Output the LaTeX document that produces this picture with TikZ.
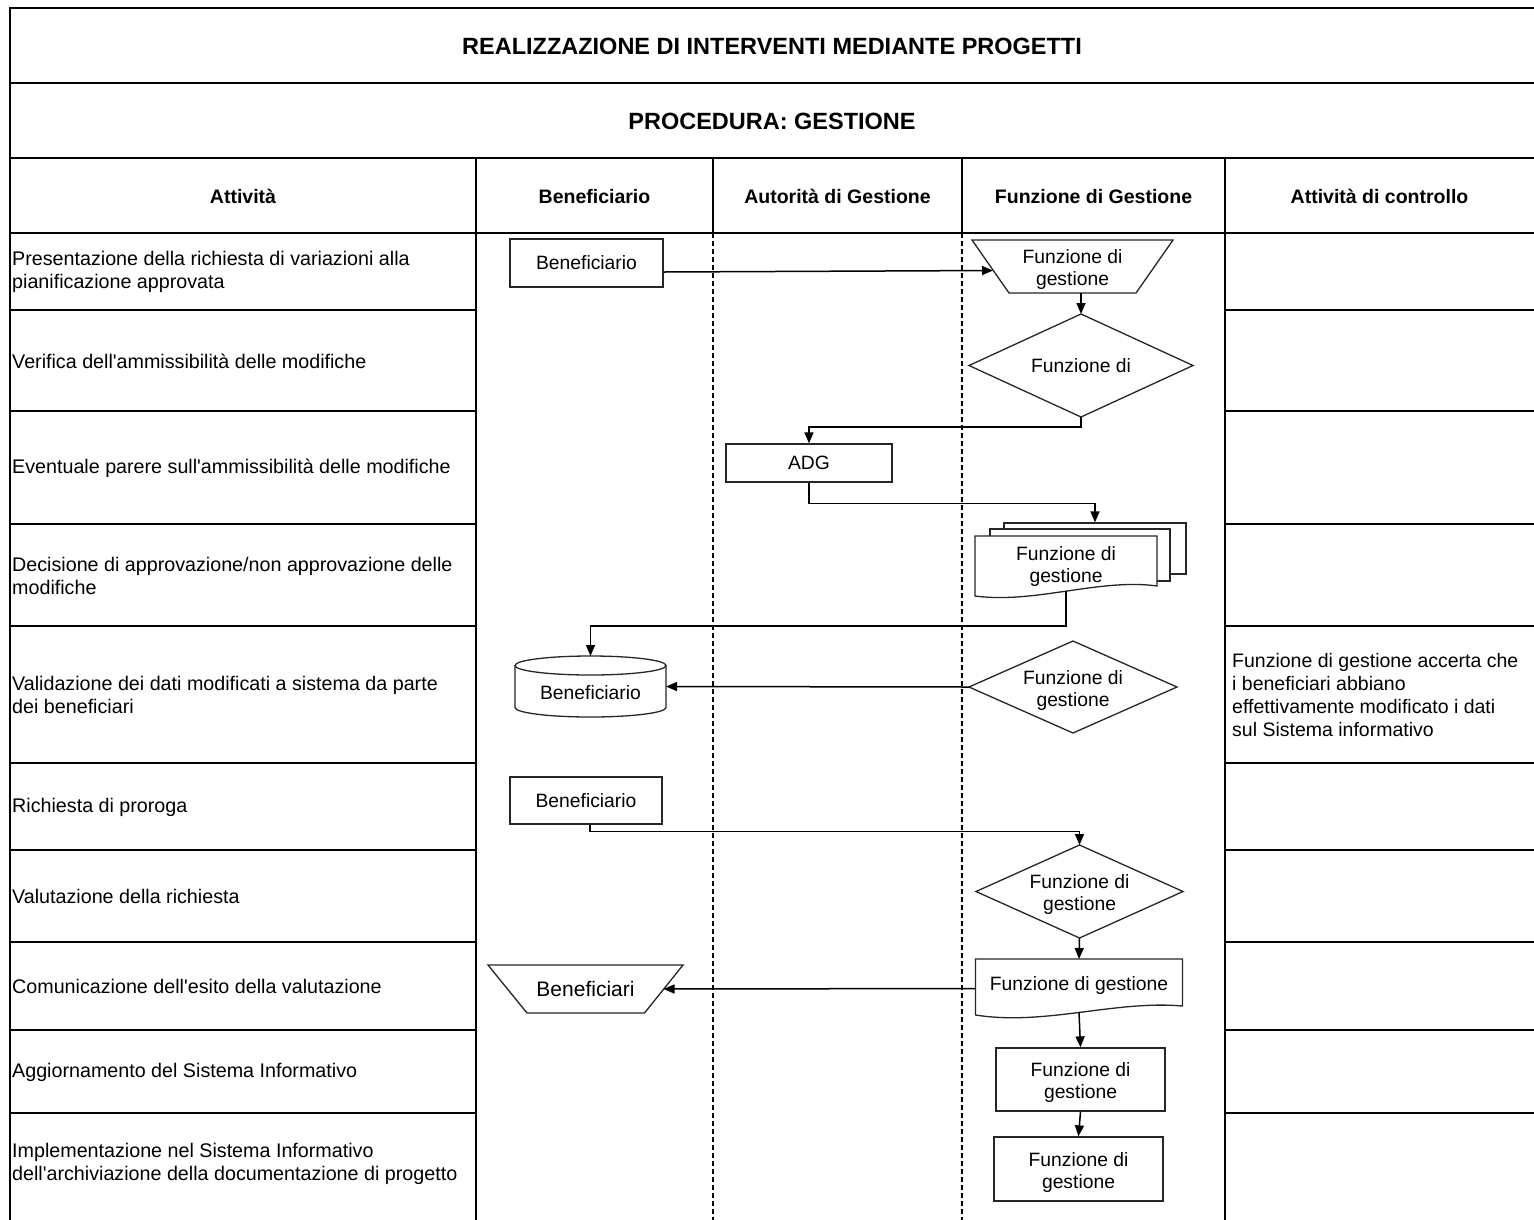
\documentclass[tikz,border=0pt]{standalone}
\usepackage{fontspec}
\setmainfont{Liberation Sans}
\usetikzlibrary{arrows.meta,calc}
\begin{document}
\begin{tikzpicture}[x=1pt,y=-1pt,
  tbl/.style={line width=2.4pt,line cap=rect},
  lane/.style={line width=2pt,dash pattern=on 5pt off 3pt},
  ttl/.style={font=\bfseries\fontsize{23.5}{28}\selectfont,inner sep=0,anchor=base},
  hdr/.style={font=\bfseries\fontsize{19.5}{23}\selectfont,inner sep=0,anchor=base},
  lbl/.style={anchor=west,align=left,font=\fontsize{19.7}{23}\selectfont,inner sep=0},
  ctl/.style={anchor=west,align=left,font=\fontsize{19.5}{23}\selectfont,inner sep=0},
  outl/.style={draw=black!85,line width=1.3pt,fill=white},
  box/.style={outl,align=center,font=\fontsize{19.3}{22}\selectfont,inner sep=0},
  shp/.style={align=center,font=\fontsize{19.3}{22}\selectfont,inner sep=0,outer sep=0},
  twoline/.style={text height=42pt,text depth=4pt},
  arr/.style={line width=1.5pt,-{Triangle[length=11pt,width=9pt]}}
]
\useasboundingbox (0,0) rectangle (1534,1219);
\fill[white] (0,0) rectangle (1534,1219);

% ---- table frame
\draw[tbl] (10,1230) -- (10,8) -- (1540,8);
\foreach \y in {83,158,233} \draw[tbl] (10,\y) -- (1540,\y);
\foreach \x in {476,1225} \draw[tbl] (\x,158) -- (\x,1230);
\foreach \x in {713,962} {
  \draw[tbl] (\x,158) -- (\x,233);
  \draw[lane] (\x,233) -- (\x,1230);
}
\foreach \y in {310,411,524,626,763,850,942,1030,1113} {
  \draw[tbl] (10,\y) -- (476,\y);
  \draw[tbl] (1225,\y) -- (1540,\y);
}

% ---- titles and headers
\node[ttl] (title) at (772,54.5) {REALIZZAZIONE DI INTERVENTI MEDIANTE PROGETTI};
\node[ttl] (proc) at (772,129) {PROCEDURA: GESTIONE};
\node[hdr] (h1) at (243,203) {Attività};
\node[hdr] (h2) at (594.5,203) {Beneficiario};
\node[hdr] (h3) at (837.5,203) {Autorità di Gestione};
\node[hdr] (h4) at (1093.5,203) {Funzione di Gestione};
\node[hdr] (h5) at (1379.5,203) {Attività di controllo};

% ---- activities
\node[lbl] (a1) at (12,272) {Presentazione della richiesta di variazioni alla\\pianificazione approvata};
\node[lbl] (a2) at (12,361) {Verifica dell\textquotesingle ammissibilità delle modifiche};
\node[lbl] (a3) at (12,468) {Eventuale parere sull\textquotesingle ammissibilità delle modifiche};
\node[lbl] (a4) at (12,575.5) {Decisione di approvazione/non approvazione delle\\modifiche};
\node[lbl] (a5) at (12,695) {Validazione dei dati modificati a sistema da parte\\dei beneficiari};
\node[lbl] (a6) at (12,807.5) {Richiesta di proroga};
\node[lbl] (a7) at (12,896.5) {Valutazione della richiesta};
\node[lbl] (a8) at (12,986.5) {Comunicazione dell\textquotesingle esito della valutazione};
\node[lbl] (a9) at (12,1072.5) {Aggiornamento del Sistema Informativo};
\node[lbl] (a10) at (12,1164) {Implementazione nel Sistema Informativo\\dell\textquotesingle archiviazione della documentazione di progetto};

\node[ctl] (c5) at (1232,695) {Funzione di gestione accerta che\\i beneficiari abbiano\\effettivamente modificato i dati\\sul Sistema informativo};

% ---- flow shapes
\node[box,minimum width=153,minimum height=48] (ben1) at (586.5,263) {Beneficiario};

\draw[outl] (972,240) -- (1173,240) -- (1136,293) -- (1009,293) -- cycle;
\node[shp,twoline,minimum width=201,minimum height=53] (t1) at (1072.5,266.5) {Funzione di\\gestione};
\coordinate (t1in) at ($(t1.west)+(21,4)$);

\draw[outl] (969,365.5) -- (1081,314) -- (1193,365.5) -- (1081,417) -- cycle;
\node[shp,minimum width=224,minimum height=103] (d1) at (1081,365.5) {Funzione di};

\node[box,minimum width=166,minimum height=38] (adg) at (809,463) {ADG};

\node[outl,inner sep=0,minimum width=182,minimum height=51] (mdback) at (1095,548.5) {};
\node[outl,inner sep=0,minimum width=180,minimum height=52] (mdmid) at (1080,555) {};
\draw[outl] (975,536) -- (1157,536) -- (1157,586) .. controls (1100,578) and (1035,604) .. (975,596) -- cycle;
\node[shp,twoline,minimum width=182,minimum height=55] (mdfront) at (1066,563.5) {Funzione di\\gestione};

\draw[outl] (515,665.5) -- (515,707.5) arc[start angle=180,end angle=360,x radius=75.5pt,y radius=9.5pt] -- (666,665.5);
\draw[outl] (590.5,665.5) ellipse [x radius=75.5pt,y radius=9.5pt];
\node[shp,minimum width=151,minimum height=61,text height=30pt,text depth=4pt] (cyl) at (590.5,686.5) {Beneficiario};

\draw[outl] (969,687) -- (1073,641) -- (1177,687) -- (1073,733) -- cycle;
\node[shp,twoline,minimum width=208,minimum height=92] (d2) at (1073,687) {Funzione di\\gestione};

\node[box,minimum width=152,minimum height=47] (ben2) at (586,800.5) {Beneficiario};

\draw[outl] (976,891.5) -- (1079.5,845) -- (1183,891.5) -- (1079.5,938) -- cycle;
\node[shp,twoline,minimum width=207,minimum height=93] (d3) at (1079.5,891.5) {Funzione di\\gestione};

\draw[outl] (975.5,959) -- (1182.5,959) -- (1182.5,1006) .. controls (1115,1000) and (1045,1026) .. (975.5,1015) -- cycle;
\node[shp,minimum width=207,minimum height=53] (doc8) at (1079,985.5) {Funzione di gestione};

\draw[outl] (488,965) -- (683,965) -- (644.5,1013) -- (527,1013) -- cycle;
\node[shp,minimum width=195,minimum height=48,font=\fontsize{21}{24}\selectfont] (t2) at (585.5,989) {Beneficiari};
\coordinate (t2in) at ($(t2.east)+(-19.5,0)$);

\node[box,twoline,minimum width=169,minimum height=63] (r9) at (1080.5,1079.5) {Funzione di\\gestione};
\node[box,twoline,minimum width=169,minimum height=64] (r10) at (1078.5,1169) {Funzione di\\gestione};

% ---- connectors
\draw[arr] ([yshift=-9pt]ben1.east) -- (t1in);
\draw[arr] (t1.south -| d1.north) -- (d1.north);
\draw[arr] (d1.south) -- ++(0,10) -| (adg.north);
\draw[arr] (adg.south) -- ++(0,21) -| (mdback.north);
\draw[arr] (mdfront.south) -- ++(0,35) -| (cyl.north);
\draw[arr] (d2.west) -- (cyl.east);
\draw[arr] ([xshift=4pt]ben2.south) -- ++(0,7) -| (d3.north);
\draw[arr] (d3.south) -- (doc8.north);
\draw[arr] ([yshift=-3pt]doc8.west) -- (t2in);
\draw[arr] (doc8.south) -- (r9.north);
\draw[arr] (r9.south) -- (r10.north);
\end{tikzpicture}
\end{document}
